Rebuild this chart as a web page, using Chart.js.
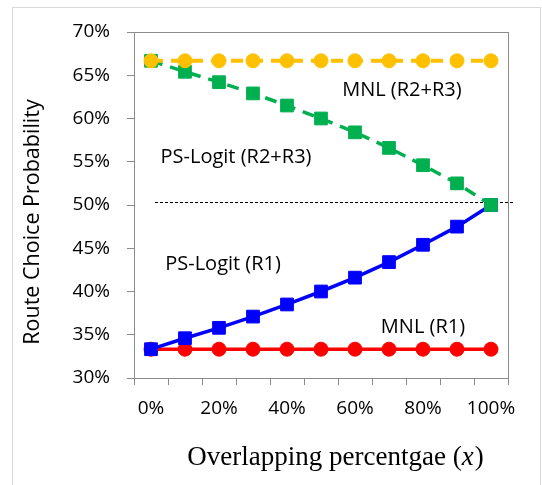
<!DOCTYPE html>
<html lang="en">
<head>
  <meta charset="UTF-8" />
  <title>Route Choice Probability</title>
  <script src="https://cdn.jsdelivr.net/npm/chart.js"></script>
  <style>
    body { margin: 0; background: #fff; }
    #frame { position: absolute; left: 12px; top: 7px; width: 527px; height: 490px; border: 1px solid #d9d9d9; }
    #wrap { position: absolute; left: 0; top: 0; width: 542px; height: 485px; }
  </style>
</head>
<body>
  <div id="frame"></div>
  <div id="wrap"><canvas id="chart"></canvas></div>

  <script>
    // x categories (overlapping percentage)
    const overlap = ['0%', '10%', '20%', '30%', '40%', '50%', '60%', '70%', '80%', '90%', '100%'];

    // route choice probabilities (%)
    const mnlR23   = [66.67, 66.67, 66.67, 66.67, 66.67, 66.67, 66.67, 66.67, 66.67, 66.67, 66.67];
    const psR23    = [66.67, 65.4, 64.2, 62.9, 61.5, 60.0, 58.4, 56.6, 54.6, 52.5, 50.0];
    const psR1     = [33.33, 34.6, 35.8, 37.1, 38.5, 40.0, 41.6, 43.4, 45.4, 47.5, 50.0];
    const mnlR1    = [33.33, 33.33, 33.33, 33.33, 33.33, 33.33, 33.33, 33.33, 33.33, 33.33, 33.33];

    const yTicks = [30, 35, 40, 45, 50, 55, 60, 65, 70];
    const refLine = 50.3;

    // in-chart labels, anchored in data units (category index, %)
    const labelText = ['MNL (R2+R3)', 'PS-Logit (R2+R3)', 'PS-Logit (R1)', 'MNL (R1)'];
    const labelAtX  = [7.38, 2.5, 2.12, 8.0];
    const labelAtY  = [63.3, 55.5, 43.1, 35.9];

    const axisGray = '#8c8c8c';
    const sans = "'Open Sans', 'Noto Sans', sans-serif";

    const extras = {
      id: 'extras',
      beforeDatasetsDraw(chart) {
        const { ctx, chartArea: a, scales: { x, y } } = chart;
        ctx.save();
        // plot box
        ctx.strokeStyle = axisGray;
        ctx.lineWidth = 1;
        ctx.strokeRect(a.left + 0.5, a.top + 0.5, a.right - a.left, a.bottom - a.top);
        // dotted 50% reference
        const ry = Math.round(y.getPixelForValue(refLine)) + 0.5;
        ctx.strokeStyle = '#000';
        ctx.setLineDash([3, 2]);
        ctx.beginPath();
        ctx.moveTo(x.getPixelForValue(0) + 4, ry);
        ctx.lineTo(a.right + 5, ry);
        ctx.stroke();
        ctx.restore();
      },
      afterDraw(chart) {
        const { ctx, chartArea: a, scales: { x, y } } = chart;
        ctx.save();
        ctx.fillStyle = '#000';
        ctx.textAlign = 'center';
        ctx.textBaseline = 'middle';
        ctx.font = "20px " + sans;
        labelText.forEach((t, i) => {
          ctx.fillText(t, x.getPixelForValue(labelAtX[i]), y.getPixelForValue(labelAtY[i]));
        });

        // y axis title
        ctx.save();
        ctx.translate(a.left - 101, (a.top + a.bottom) / 2 + 17);
        ctx.rotate(-Math.PI / 2);
        ctx.font = "21.5px " + sans;
        ctx.fillText('Route Choice Probability', 0, 0);
        ctx.restore();

        // x axis title, with italic x
        const p1 = 'Overlapping percentgae (', p2 = 'x', p3 = ')';
        const fN = "27px 'Liberation Serif', 'Times New Roman', serif";
        const fI = "italic 27px 'Liberation Serif', 'Times New Roman', serif";
        ctx.font = fN; const w1 = ctx.measureText(p1).width, w3 = ctx.measureText(p3).width;
        ctx.font = fI; const w2 = ctx.measureText(p2).width;
        let tx = (a.left + a.right) / 2 + 14 - (w1 + w2 + w3) / 2;
        const ty = a.bottom + 80;
        ctx.textAlign = 'left';
        ctx.font = fN; ctx.fillText(p1, tx, ty); tx += w1;
        ctx.font = fI; ctx.fillText(p2, tx, ty); tx += w2 + 1;
        ctx.font = fN; ctx.fillText(p3, tx, ty);
        ctx.restore();
      }
    };

    new Chart(document.getElementById('chart'), {
      type: 'line',
      data: {
        labels: overlap,
        datasets: [
          { label: 'MNL (R2+R3)', data: mnlR23, borderColor: '#FFC000', backgroundColor: '#FFC000',
            borderWidth: 4, borderDash: [12, 8], pointStyle: 'circle', pointRadius: 7, pointBorderWidth: 1 },
          { label: 'PS-Logit (R2+R3)', data: psR23, borderColor: '#00B050', backgroundColor: '#00B050',
            borderWidth: 3.5, borderDash: [12, 8], pointStyle: 'rect', pointRadius: 9, pointBorderWidth: 1 },
          { label: 'PS-Logit (R1)', data: psR1, borderColor: '#0000FF', backgroundColor: '#0000FF',
            borderWidth: 3.5, pointStyle: 'rect', pointRadius: 9, pointBorderWidth: 1 },
          { label: 'MNL (R1)', data: mnlR1, borderColor: '#FF0000', backgroundColor: '#FF0000',
            borderWidth: 3.5, pointStyle: 'circle', pointRadius: 7, pointBorderWidth: 1 }
        ]
      },
      options: {
        responsive: true,
        maintainAspectRatio: false,
        animation: false,
        layout: { padding: { top: 32, right: 34, left: 0, bottom: 0 } },
        plugins: { legend: { display: false }, tooltip: { enabled: false } },
        scales: {
          x: {
            offset: true,
            grid: { offset: true, drawOnChartArea: false, tickLength: 7, color: axisGray },
            border: { color: axisGray },
            ticks: {
              autoSkip: false, maxRotation: 0, padding: 12, color: '#000',
              font: { family: sans, size: 19 },
              callback: (v, i) => (i % 2 === 0 ? overlap[i] : '')
            },
            afterFit: s => { s.height = 107; }
          },
          y: {
            min: 30, max: 70,
            afterBuildTicks: s => { s.ticks = yTicks.map(v => ({ value: v })); },
            grid: { drawOnChartArea: false, tickLength: 7, color: axisGray },
            border: { color: axisGray },
            ticks: { padding: 17, color: '#000', font: { family: sans, size: 19 }, callback: v => v + '%' },
            afterFit: s => { s.width = 134; }
          }
        }
      },
      plugins: [extras]
    });
  </script>
</body>
</html>
